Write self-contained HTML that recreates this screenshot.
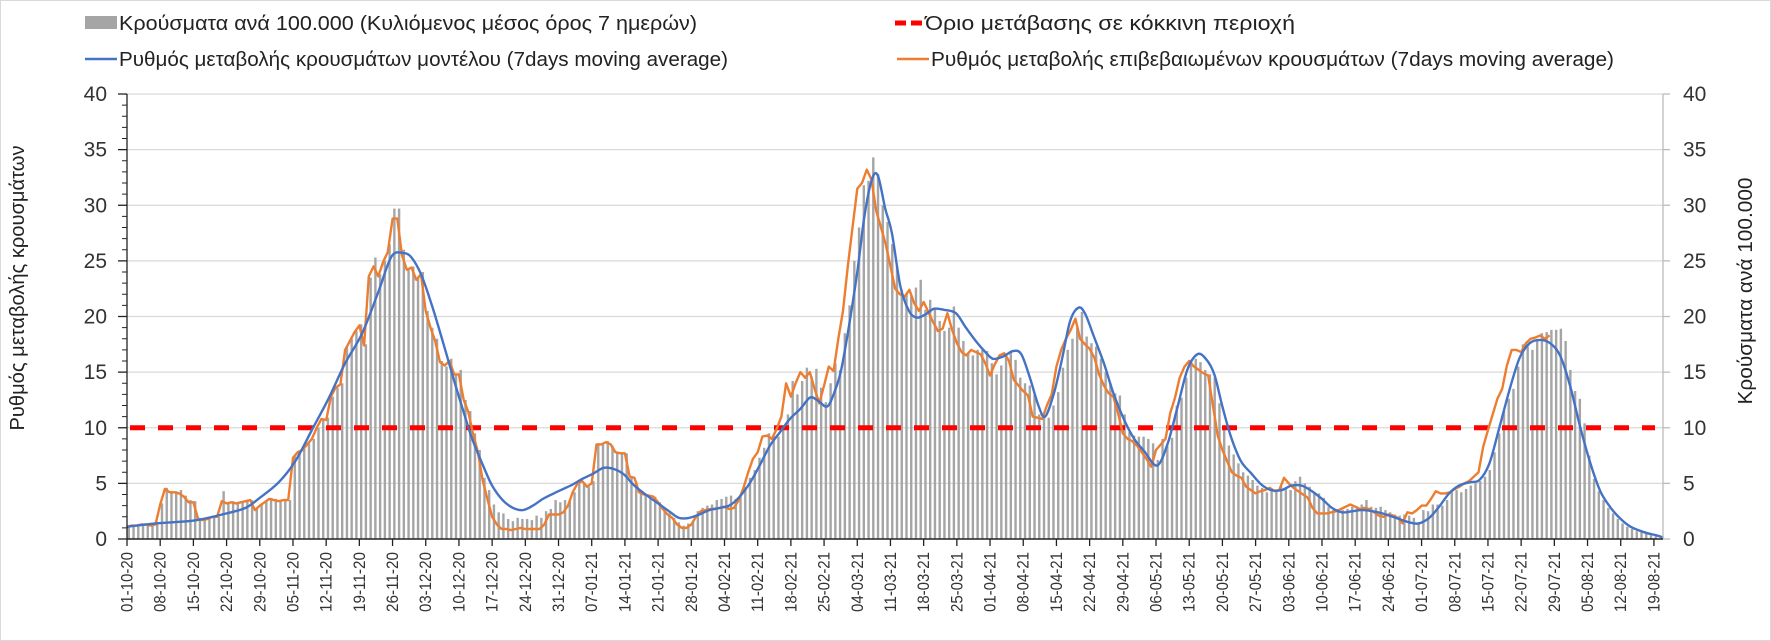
<!DOCTYPE html>
<html><head><meta charset="utf-8"><style>
html,body{margin:0;padding:0;background:#fff}
svg{display:block;font-family:"Liberation Sans",sans-serif}
</style></head><body>
<svg id="chart" width="1771" height="641" viewBox="0 0 1771 641" xmlns="http://www.w3.org/2000/svg">
<rect x="0.5" y="0.5" width="1770" height="640" fill="#fff" stroke="#d9d9d9"/>
<g id="grid"></g>
<g id="bars"></g>
<g id="lines"></g>
<g id="axes"></g>
<g id="legend">
  <g>
    <rect x="85" y="16" width="32" height="13" fill="#a5a5a5"/>
    <text x="119" y="30" font-size="20" fill="#222" textLength="578" lengthAdjust="spacingAndGlyphs">Κρούσματα ανά 100.000 (Κυλιόμενος μέσος όρος 7 ημερών)</text>
  </g>
  <g>
    <line x1="85" y1="59" x2="117" y2="59" stroke="#4472c4" stroke-width="2.5"/>
    <text x="119" y="66" font-size="20" fill="#222" textLength="609" lengthAdjust="spacingAndGlyphs">Ρυθμός μεταβολής κρουσμάτων μοντέλου (7days moving average)</text>
  </g>
  <g>
    <line x1="895" y1="23" x2="923" y2="23" stroke="#ff0000" stroke-width="5" stroke-dasharray="11,5"/>
    <text x="925" y="30" font-size="20" fill="#222" textLength="370" lengthAdjust="spacingAndGlyphs">Όριο μετάβασης σε κόκκινη περιοχή</text>
  </g>
  <g>
    <line x1="897" y1="59" x2="929" y2="59" stroke="#ed7d31" stroke-width="2.5"/>
    <text x="931" y="66" font-size="20" fill="#222" textLength="683" lengthAdjust="spacingAndGlyphs">Ρυθμός μεταβολής επιβεβαιωμένων κρουσμάτων (7days moving average)</text>
  </g>
</g>
<text x="0" y="0" font-size="20" fill="#222" text-anchor="middle" transform="translate(24,288) rotate(-90)" textLength="285" lengthAdjust="spacingAndGlyphs">Ρυθμός μεταβολής κρουσμάτων</text>
<text x="0" y="0" font-size="20" fill="#222" text-anchor="middle" transform="translate(1752,291) rotate(-90)" textLength="227" lengthAdjust="spacingAndGlyphs">Κρούσματα ανά 100.000</text>
</svg>
<script>
const tickLabels = ["01-10-20","08-10-20","15-10-20","22-10-20","29-10-20","05-11-20","12-11-20","19-11-20","26-11-20","03-12-20","10-12-20","17-12-20","24-12-20","31-12-20","07-01-21","14-01-21","21-01-21","28-01-21","04-02-21","11-02-21","18-02-21","25-02-21","04-03-21","11-03-21","18-03-21","25-03-21","01-04-21","08-04-21","15-04-21","22-04-21","29-04-21","06-05-21","13-05-21","20-05-21","27-05-21","03-06-21","10-06-21","17-06-21","24-06-21","01-07-21","08-07-21","15-07-21","22-07-21","29-07-21","05-08-21","12-08-21","19-08-21"];
const yTicks = [0,5,10,15,20,25,30,35,40];
const thresholdValue = 10;
const barValues = [
1.1,1.2,1.2,1.3,1.3,1.2,1.3,
3.2,4.6,4.3,4.3,4.4,3.9,3.5,
3.4,1.9,1.8,1.8,2.1,2.0,4.3,
3.2,3.4,3.3,3.4,3.5,3.5,2.7,
3.1,3.4,3.7,3.6,3.5,3.6,3.5,
7.4,7.8,8.1,8.6,9.0,10.0,10.8,
10.9,12.8,13.6,14.0,17.2,18.0,18.7,
19.3,17.5,23.5,25.3,23.8,25.0,26.5,
29.7,29.7,26.0,24.2,24.5,23.5,24.0,
20.5,19.0,18.0,16.0,15.5,16.2,14.8,
15.2,12.5,11.5,9.5,8.0,5.5,4.4,
3.1,2.4,2.3,1.8,1.6,1.9,1.8,
1.8,1.7,2.1,1.9,2.5,2.7,3.5,
3.3,3.5,3.5,4.2,5.0,5.1,4.7,
5.2,8.6,8.5,8.8,8.4,7.8,7.8,
7.7,5.6,5.2,4.2,4.0,3.9,3.8,
3.3,2.8,2.3,1.9,1.5,1.2,1.4,
1.6,2.5,2.8,3.0,3.1,3.5,3.6,
3.8,3.9,3.6,3.9,4.7,5.5,6.2,
7.3,8.2,9.5,9.3,9.2,9.9,11.2,
14.2,13.0,14.2,15.4,14.6,15.3,13.6,
12.3,14.0,15.8,15.2,18.5,21.0,25.0,
28.0,31.8,32.2,34.3,32.8,30.0,28.5,
26.5,24.5,22.4,22.0,21.8,22.6,23.3,
20.6,21.5,20.8,19.6,18.7,19.0,20.9,
19.0,17.8,16.7,16.5,17.0,17.0,16.9,
15.8,14.8,15.6,16.5,16.8,16.1,14.5,
14.0,13.8,13.0,11.2,10.9,10.9,12.0,
13.2,15.4,17.0,18.0,19.0,20.4,18.2,
17.6,17.3,16.2,15.0,14.0,13.1,12.9,
11.2,9.6,9.3,9.2,9.2,9.0,8.6,
7.1,9.0,8.4,9.1,12.0,12.7,14.5,
16.1,16.2,15.9,15.2,14.8,14.5,12.2,
9.8,8.4,7.6,6.8,6.0,5.7,5.3,
4.8,4.6,4.2,4.4,4.4,4.7,4.5,
4.4,5.2,5.6,5.0,4.7,4.2,4.1,
3.7,2.9,2.6,2.7,2.6,2.7,2.9,
2.9,3.1,3.5,2.9,2.8,2.9,2.6,
2.4,2.2,2.1,2.2,2.1,1.9,1.5,
2.6,2.5,3.1,3.1,3.0,3.5,4.3,
4.4,4.2,4.5,4.8,5.0,5.2,5.6,
6.2,7.8,9.5,11.5,12.6,13.5,15.5,
17.5,17.3,17.0,17.8,18.5,18.6,18.8,
18.8,18.9,17.8,15.2,13.3,12.6,10.4,
7.5,5.4,4.3,3.5,2.8,2.3,1.8,
1.4,1.1,0.9,0.7,0.6,0.45,0.35,
0.25];
const orangeValues = [
1.1,1.2,1.2,1.3,1.3,1.2,1.3,
3.1,4.5,4.2,4.2,4.1,3.8,3.3,
3.3,1.8,1.7,1.8,2.0,2.0,3.4,
3.2,3.3,3.2,3.3,3.4,3.5,2.6,
3.0,3.3,3.6,3.5,3.4,3.5,3.5,
7.3,7.8,8.0,8.5,9.0,10.0,10.8,
10.7,12.8,13.6,13.9,17.0,17.8,18.6,
19.2,17.4,23.6,24.5,23.6,24.9,25.8,
28.8,28.8,25.5,24.2,24.4,23.3,23.8,
20.5,19.0,17.8,15.9,15.6,16.0,14.8,
14.8,12.5,11.4,9.4,7.8,5.3,3.6,
2.0,1.3,0.9,0.9,0.8,0.9,1.0,
0.9,0.9,0.9,0.9,1.3,2.2,2.2,
2.2,2.4,3.0,4.2,5.0,5.2,4.7,
5.0,8.5,8.5,8.7,8.5,7.8,7.7,
7.7,5.6,5.5,4.2,4.0,3.9,3.8,
3.3,2.7,2.2,1.9,1.3,1.0,1.0,
1.3,2.0,2.5,2.6,2.7,2.7,2.8,
2.9,2.7,2.8,3.5,4.6,6.0,7.2,
7.8,9.2,9.3,9.0,9.9,11.0,14.0,
12.8,14.0,15.0,14.5,15.0,13.5,12.2,
13.8,15.5,15.1,18.0,20.5,24.5,28.0,
31.5,32.0,33.2,32.3,29.5,28.0,26.5,
24.5,22.5,22.0,21.8,22.4,21.2,20.5,
21.3,20.4,19.5,18.7,18.9,20.3,18.8,
17.6,16.8,16.5,17.0,16.8,16.6,15.8,
14.7,15.7,16.5,16.7,16.0,14.3,13.8,
13.3,12.9,11.0,10.9,10.8,12.0,13.0,
15.5,17.0,18.0,18.8,19.8,18.0,17.5,
17.1,16.3,14.8,13.8,13.1,12.8,11.3,
9.5,9.0,8.8,8.4,7.8,7.2,6.5,
8.0,8.5,9.0,11.3,12.7,14.5,15.5,
16.0,15.5,15.2,14.9,14.7,12.0,9.3,
8.0,7.0,6.0,5.7,5.5,4.7,4.4,
4.1,4.3,4.4,4.6,4.3,4.4,5.5,
5.0,4.6,4.3,4.0,3.7,2.8,2.3,
2.3,2.3,2.4,2.5,2.7,2.9,3.1,
2.9,2.7,2.8,2.7,2.4,2.1,2.0,
2.2,2.1,1.9,1.4,2.4,2.3,2.6,
3.0,3.0,3.6,4.3,4.1,4.1,4.2,
4.5,4.7,5.0,5.2,5.6,6.0,8.3,
9.8,11.2,12.6,13.5,15.6,17.0,17.0,
16.8,17.6,18.0,18.1,18.3,18.0,18.3];
const blueDays = [0,6,13,16,21,25,28,32,35.5,39,42.6,46,49.6,53,55.8,58.3,60,62,64.3,66.5,68.6,70.7,72.8,75,77,79.2,81.4,83.5,85.6,87.7,90,92,94,96,98.4,100.5,102.6,104.8,107,110,112,114.3,116.4,118.5,120.7,122.8,125,127,129,131.3,133.4,135.6,137.7,139.8,142,144,145.5,147.6,149,150.5,152,154,155.5,157,158.3,159.9,161.3,163.1,164.9,166.6,168.4,170.2,172.3,174.8,176.9,179,180.8,182.6,184.7,186.9,188.6,190.4,192.2,193.6,195.4,197.1,198.9,200.7,202.1,203.9,206,208.1,210.3,212.4,214.5,217.2,219.4,221.5,223.6,225.7,227.5,229.3,231,232.8,234.9,237.1,239.2,241.3,243.5,245.6,247.7,249.9,252,254.1,256.2,258.4,260.5,262.6,264.7,267.6,270.4,272.4,274.6,276.7,278.8,280.9,283.1,285.2,287.3,289.4,291.6,293.7,295.8,298,300.1,302.2,304.3,306.5,308.6,310.7,312.9,315,317.1,320,322.8,324];
const blueValues = [1.1,1.4,1.6,1.8,2.3,2.8,3.7,5.1,7.0,9.8,12.7,15.8,18.5,22.2,25.4,25.7,25.3,23.8,21,17.9,14.8,11.8,9.0,6.7,4.8,3.5,2.8,2.6,3.0,3.6,4.1,4.5,4.9,5.4,5.9,6.4,6.3,5.8,4.8,3.8,3.2,2.5,1.9,1.9,2.2,2.6,2.8,3.0,3.7,5.0,6.6,8.4,9.6,10.8,11.7,12.7,12.5,11.9,13,15,18.5,24,29,32.2,32.7,29.7,27.5,22.7,20.5,19.9,20.2,20.7,20.6,20.3,19.0,17.8,16.9,16.2,16.4,16.9,16.6,14.5,12.0,11.0,13.0,16.0,19.6,20.8,20.2,18.2,15.8,13.0,10.7,9.0,7.9,6.6,8.5,11.8,15.2,16.6,16.2,14.8,11.9,9.2,7.0,5.9,4.9,4.4,4.4,4.8,4.8,4.3,3.6,2.8,2.4,2.5,2.6,2.5,2.3,1.9,1.5,1.4,1.9,2.9,4.1,4.8,5.1,5.3,6.8,10.0,13.5,16.3,17.6,17.9,17.6,16.5,13.8,10.0,6.8,4.3,2.8,1.8,1.1,0.6,0.3,0.1];

const NS = "http://www.w3.org/2000/svg";
const X0 = 127, DAY = 4.742, Y0 = 539, UNIT = 11.125, XR = 1663;
function xs(d){ return X0 + DAY * d; }
function ys(v){ return Y0 - UNIT * v; }
function mk(tag, attrs, parent){ const e = document.createElementNS(NS, tag); for (const k in attrs) e.setAttribute(k, attrs[k]); parent.appendChild(e); return e; }

const grid = document.getElementById('grid');
const axes = document.getElementById('axes');
yTicks.forEach(function(v){
  if (v > 0) {
    const g = mk('line', {x1:X0, x2:XR, y1:ys(v), y2:ys(v), stroke:'#d9d9d9', 'stroke-width':1.3}, grid);
    
    
  }
  const tl = mk('text', {x:107, y:ys(v)+7, 'font-size':21, 'text-anchor':'end', fill:'#333'}, axes);
  tl.textContent = v;
  
  
  const tr = mk('text', {x:1683, y:ys(v)+7, 'font-size':21, fill:'#333'}, axes);
  tr.textContent = v;
  
  
  mk('line', {x1:118, x2:X0, y1:ys(v), y2:ys(v), stroke:'#222', 'stroke-width':1.3}, axes);
  mk('line', {x1:XR, x2:XR+7, y1:ys(v), y2:ys(v), stroke:'#bbb', 'stroke-width':1.3}, axes);
});
for (let v = 0; v <= 40; v++) {
  if (v % 5) mk('line', {x1:122, x2:X0, y1:ys(v), y2:ys(v), stroke:'#222', 'stroke-width':1}, axes);
}
const la = mk('line', {x1:X0, x2:X0, y1:ys(40), y2:Y0, stroke:'#222', 'stroke-width':1.3}, axes);


const ra = mk('line', {x1:XR, x2:XR, y1:ys(40), y2:Y0, stroke:'#bbb', 'stroke-width':1.3}, axes);



const bars = document.getElementById('bars');
barValues.forEach(function(v, d){
  const b = mk('rect', {x:xs(d)+0.6, y:ys(v), width:2.4, height:Math.max(0, Y0-ys(v)), fill:'#a5a5a5'}, bars);
  
  
});

const lines = document.getElementById('lines');
const th = mk('line', {x1:X0+3, x2:1655, y1:ys(thresholdValue), y2:ys(thresholdValue), stroke:'#ff0000', 'stroke-width':5, 'stroke-dasharray':'15,13'}, lines);



let op = '';
orangeValues.forEach(function(v, d){ op += (d ? 'L' : 'M') + xs(d).toFixed(1) + ',' + ys(v).toFixed(1); });
const ol = mk('path', {d:op, fill:'none', stroke:'#ed7d31', 'stroke-width':2.4, 'stroke-linejoin':'round'}, lines);



const pts = blueDays.map(function(d, i){ return [xs(d), ys(blueValues[i])]; });
let bp = 'M' + pts[0][0].toFixed(1) + ',' + pts[0][1].toFixed(1);
for (let i = 0; i < pts.length - 1; i++) {
  const p0 = pts[Math.max(0, i-1)], p1 = pts[i], p2 = pts[i+1], p3 = pts[Math.min(pts.length-1, i+2)];
  const c1x = p1[0] + (p2[0]-p0[0])/6, c1y = p1[1] + (p2[1]-p0[1])/6;
  const c2x = p2[0] - (p3[0]-p1[0])/6, c2y = p2[1] - (p3[1]-p1[1])/6;
  bp += 'C' + c1x.toFixed(1) + ',' + c1y.toFixed(1) + ' ' + c2x.toFixed(1) + ',' + c2y.toFixed(1) + ' ' + p2[0].toFixed(1) + ',' + p2[1].toFixed(1);
}
const bl = mk('path', {d:bp, fill:'none', stroke:'#4472c4', 'stroke-width':2.4}, lines);



const xa = mk('line', {x1:X0, x2:XR, y1:Y0, y2:Y0, stroke:'#222', 'stroke-width':1.5}, axes);


tickLabels.forEach(function(lab, i){
  const x = xs(i*7);
  mk('line', {x1:x, x2:x, y1:Y0, y2:Y0+7, stroke:'#222', 'stroke-width':1.3}, axes);
  const t = mk('text', {x:x, y:552, 'font-size':17, fill:'#333', 'text-anchor':'end', 'dominant-baseline':'central', transform:'rotate(-90 '+x+' 552)', textLength:60, lengthAdjust:'spacingAndGlyphs'}, axes);
  t.textContent = lab;
  
  
});
</script>
</body></html>
